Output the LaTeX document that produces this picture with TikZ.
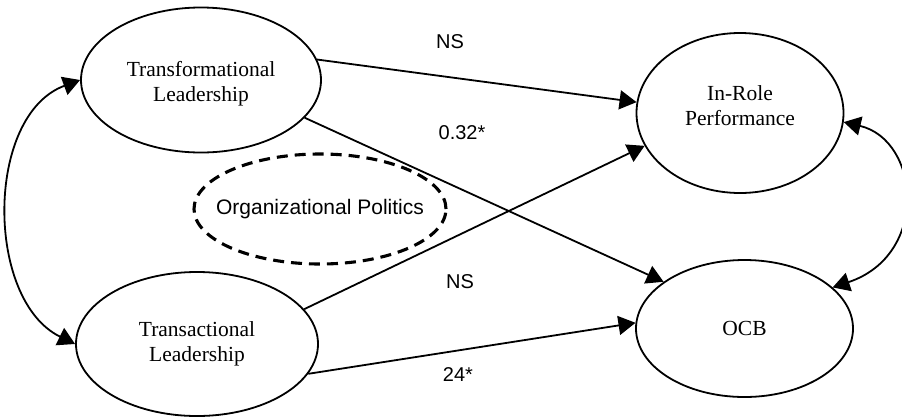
\documentclass[tikz,border=0pt]{standalone}
\usepackage{fontspec}
\setmainfont{Liberation Serif}
\newfontfamily\labfont{Liberation Sans}
\usetikzlibrary{shapes.geometric,arrows.meta}
\begin{document}
\begin{tikzpicture}[x=1pt,y=-1pt,
  latent/.style={ellipse,draw,line width=1.8pt,inner sep=0pt},
  ltext/.style={align=center,inner sep=0pt,font=\fontsize{21.5}{25}\selectfont},
  moder/.style={ellipse,draw,line width=3.1pt,dash pattern=on 11pt off 7pt,inner sep=0pt},
  path/.style={line width=1.8pt,-{Triangle[length=17pt,width=19pt]}},
  biarrow/.style={line width=1.8pt,{Triangle[length=17pt,width=19pt]}-{Triangle[length=17pt,width=19pt]}},
  coef/.style={font=\labfont\fontsize{20}{24}\selectfont,inner sep=0pt}]
\useasboundingbox (0,0) rectangle (902,416);
\node[latent,minimum width=240pt,minimum height=145pt,
  label={[ltext,yshift=-4pt]center:Transformational\\Leadership}] (tf) at (201,80) {};
\node[latent,minimum width=242pt,minimum height=144pt,
  label={[ltext]center:Transactional\\Leadership}] (ts) at (197,344) {};
\node[latent,minimum width=207pt,minimum height=160pt,
  label={[ltext,yshift=7pt]center:In-Role\\Performance}] (ir) at (740,113) {};
\node[latent,minimum width=217pt,minimum height=137pt,
  label={[ltext]center:OCB}] (ocb) at (744.5,328.5) {};
\node[moder,minimum width=252pt,minimum height=110pt,
  label={[font=\labfont\fontsize{21}{25}\selectfont,inner sep=0pt]center:Organizational Politics}] (op) at (320,209) {};
\draw[path] (tf.10) -- (ir.174);
\draw[path] (tf.-20) -- (ocb.150);
\draw[path] (ts.18) -- (ir.199);
\draw[path] (ts.-15) -- (ocb.177);
\draw[biarrow] (tf.west) .. controls (-15,115) and (-15,300) .. (ts.west);
\draw[biarrow] (ir.-5) .. controls (920,140) and (930,255) .. (ocb.25);
\node[coef] (c1) at (450,42) {NS};
\node[coef] (c2) at (462,133) {0.32*};
\node[coef] (c3) at (460,282) {NS};
\node[coef] (c4) at (458,375) {24*};
\end{tikzpicture}
\end{document}
